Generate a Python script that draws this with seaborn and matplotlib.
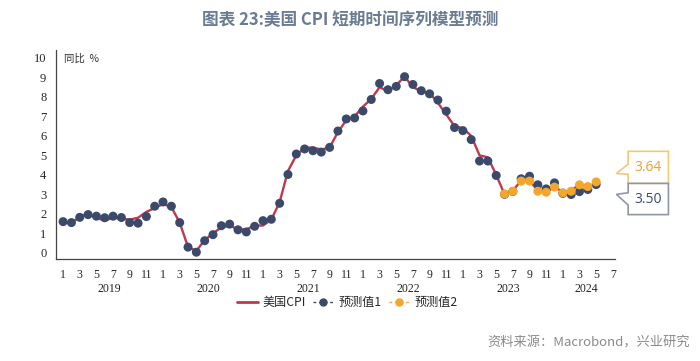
import numpy as np
import pandas as pd
import matplotlib.pyplot as plt
import seaborn as sns
from matplotlib.lines import Line2D
from matplotlib.patches import Polygon
import matplotlib.transforms as mtransforms

sns.set_theme(style="white")
plt.rcParams['font.family'] = ['Noto Sans CJK SC', 'DejaVu Sans']

# -----------------------------
# Data (monthly, Jan 2019 - May 2024)
# -----------------------------
years = [2019, 2020, 2021, 2022, 2023, 2024]

cpi = [1.55, 1.52, 1.86, 2.0, 1.8, 1.65, 1.8, 1.75, 1.7, 1.8, 2.1, 2.3,
       2.5, 2.35, 1.55, 0.3, 0.1, 0.65, 1.0, 1.3, 1.4, 1.2, 1.2, 1.4,
       1.4, 1.7, 2.6, 4.2, 5.0, 5.4, 5.4, 5.3, 5.4, 6.2, 6.8, 7.0,
       7.5, 7.9, 8.5, 8.3, 8.6, 9.05, 8.5, 8.3, 8.2, 7.7, 7.1, 6.5,
       6.4, 6.0, 5.0, 4.9, 4.0, 3.0, 3.2, 3.7, 3.7, 3.2, 3.1, 3.4,
       3.1, 3.2, 3.5, 3.4]

pred1 = [1.60, 1.55, 1.82, 1.96, 1.88, 1.80, 1.88, 1.81, 1.55, 1.52, 1.86, 2.39,
         2.61, 2.39, 1.55, 0.29, 0.03, 0.62, 0.93, 1.39, 1.47, 1.18, 1.07, 1.36,
         1.65, 1.72, 2.54, 4.02, 5.07, 5.33, 5.24, 5.17, 5.41, 6.25, 6.87, 6.92,
         7.28, 7.87, 8.69, 8.37, 8.54, 9.04, 8.64, 8.32, 8.16, 7.84, 7.27, 6.43,
         6.27, 5.81, 4.71, 4.71, 3.97, 3.00, 3.15, 3.80, 3.93, 3.49, 3.28, 3.59,
         3.05, 2.99, 3.14, 3.25, 3.50]

# forecast 2 starts Jun 2023
pred2_start = 53
pred2 = [3.02, 3.16, 3.68, 3.68, 3.16, 3.11, 3.37, 3.08, 3.16, 3.49, 3.40, 3.64]

df_cpi = pd.DataFrame({"t": np.arange(len(cpi)), "v": cpi})
df_p1 = pd.DataFrame({"t": np.arange(len(pred1)), "v": pred1})
df_p2 = pd.DataFrame({"t": np.arange(len(pred2)) + pred2_start, "v": pred2})

RED = "#c0384c"
NAVY = "#3b4a6a"
ORANGE = "#f4a62a"

fig = plt.figure(figsize=(7, 3.61), dpi=100)
ax = fig.add_axes([0.08, 0.283, 0.799, 0.578])

sns.lineplot(data=df_cpi, x="t", y="v", color=RED, linewidth=1.7, ax=ax, zorder=2)
sns.scatterplot(data=df_p1, x="t", y="v", color=NAVY, s=42, edgecolor="none", ax=ax, zorder=3)
sns.scatterplot(data=df_p2, x="t", y="v", color=ORANGE, s=42, edgecolor="none", ax=ax, zorder=4)

ax.set_xlim(-0.85, 66.3)
ax.set_ylim(-0.31, 10.4)
ax.set_xlabel("")
ax.set_ylabel("")

# y axis
ax.set_yticks(range(0, 11))
ax.set_yticklabels([str(i) for i in range(0, 11)], family="Liberation Serif", fontsize=9)
ax.tick_params(axis="y", direction="out", length=5, width=0.8, color="#444444", pad=2)

# x axis: major tick at Jan, minor every month, labels on odd months
major = list(range(0, 61, 12))
minor = [m for m in range(0, 67) if m % 12 != 0]
ax.set_xticks(major)
ax.set_xticklabels(["1"] * len(major), family="Liberation Serif", fontsize=8.5)
ax.set_xticks(minor, minor=True)
ax.set_xticklabels([str(m % 12 + 1) if (m % 12) % 2 == 0 else "" for m in minor],
                   minor=True, family="Liberation Serif", fontsize=8.5)
ax.tick_params(axis="x", which="major", direction="out", length=7, width=0.8, color="#444444", pad=0.5)
ax.tick_params(axis="x", which="minor", direction="out", length=3.5, width=0.8, color="#444444", pad=4)

for s in ["top", "right"]:
    ax.spines[s].set_visible(False)
for s in ["left", "bottom"]:
    ax.spines[s].set_color("#444444")
    ax.spines[s].set_linewidth(0.9)

# year labels
trans = mtransforms.blended_transform_factory(ax.transData, ax.transAxes)
for i, y in enumerate(years):
    xc = i * 12 + (5.5 if y != 2024 else 2.8)
    ax.text(xc, -0.145, str(y), transform=trans, ha="center", va="center",
            family="Liberation Serif", fontsize=8.5, color="#222222")

# unit label
ax.text(0.015, 0.985, "同比  %", transform=ax.transAxes, ha="left", va="top",
        fontsize=7.5, color="#333333")

# value callouts on the right
tr = mtransforms.blended_transform_factory(ax.transAxes, ax.transData)
x0, x1, xt = 1.023, 1.095, 1.002
orange_box = [(x0, 5.21), (x1, 5.21), (x1, 3.56), (x0, 3.56), (x0, 4.03), (xt, 4.07), (x0, 4.55)]
grey_box = [(x0, 3.56), (x1, 3.56), (x1, 1.96), (x0, 1.96), (x0, 2.45), (xt, 3.0), (x0, 3.08)]
ax.add_patch(Polygon(orange_box, closed=True, transform=tr, facecolor="white",
                     edgecolor="#f0c878", linewidth=1.2, clip_on=False, zorder=5))
ax.add_patch(Polygon(grey_box, closed=True, transform=tr, facecolor="white",
                     edgecolor="#8f96a6", linewidth=1.2, clip_on=False, zorder=5))
ax.text((x0 + x1) / 2, 4.39, f"{pred2[-1]:.2f}", transform=tr, ha="center", va="center",
        fontsize=10, color="#e8a035", family="Open Sans", zorder=6)
ax.text((x0 + x1) / 2, 2.76, f"{pred1[-1]:.2f}", transform=tr, ha="center", va="center",
        fontsize=10, color=NAVY, family="Open Sans", zorder=6)

# legend
handles = [
    Line2D([], [], color=RED, linewidth=2),
    Line2D([], [], color=NAVY, linestyle=(0, (2, 2)), linewidth=1, marker="o", markersize=5),
    Line2D([], [], color=ORANGE, linestyle=(0, (2, 2)), linewidth=1, marker="o", markersize=5),
]
fig.legend(handles, ["美国CPI", "预测值1", "预测值2"], loc="center",
           bbox_to_anchor=(0.496, 0.161), ncol=3, frameon=False, fontsize=8.7,
           handlelength=1.7, handletextpad=0.4, columnspacing=0.6)

# title and source
fig.text(0.5, 0.943, "图表 23:美国 CPI 短期时间序列模型预测", ha="center", va="center",
         fontsize=12, fontweight="bold", color="#6a7b94")
fig.text(0.986, 0.05, "资料来源：Macrobond，兴业研究", ha="right", va="center",
         fontsize=9.5, color="#8a8a8a")

fig.savefig("out.png", dpi=100)
